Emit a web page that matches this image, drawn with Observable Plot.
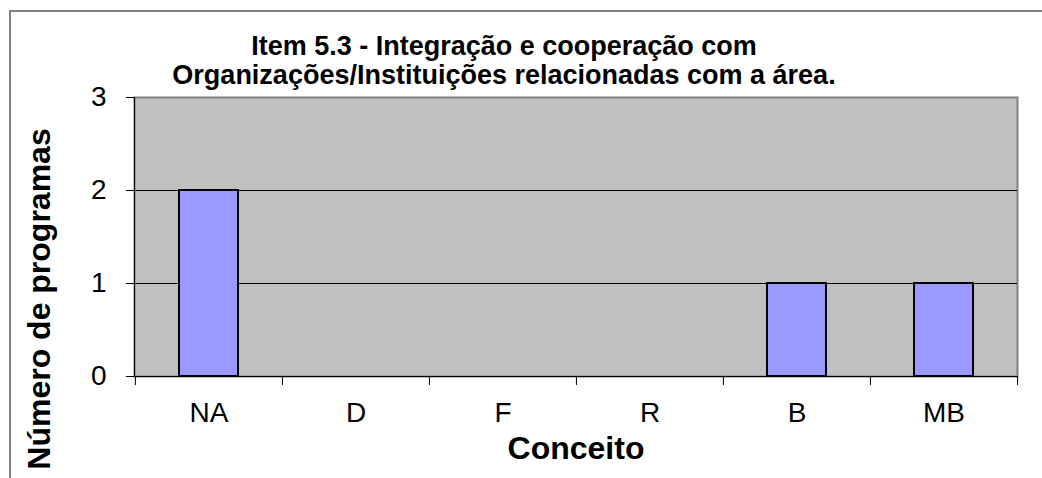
<!DOCTYPE html>
<html>
<head>
<meta charset="utf-8">
<script src="https://cdn.jsdelivr.net/npm/d3@7"></script>
<script src="https://cdn.jsdelivr.net/npm/@observablehq/plot@0.6"></script>
<style>
  html, body { margin: 0; padding: 0; background: #fff; }
  svg { display: block; font-family: "Liberation Sans", Arial, sans-serif; }
</style>
</head>
<body>
<div id="chart"></div>
<script>
const categories = ["NA", "D", "F", "R", "B", "MB"];
const values = [2, 0, 0, 0, 1, 1];
const yTicks = [0, 1, 2, 3];
const gridValues = [1, 2];
const titleLines = ["Item 5.3 - Integração e cooperação com", "Organizações/Instituições relacionadas com a área."];
const xLabel = "Conceito";
const yLabel = "Número de programas";

const data = categories.map((c, i) => ({ cat: c, val: values[i] }));

const W = 1042, H = 478;
const mL = 134, mR = 25, mT = 97, mB = 102;
const step = (W - mL - mR) / categories.length;
const FONT = "Liberation Sans, Arial, sans-serif";

const chart = Plot.plot({
  width: W,
  height: H,
  marginLeft: mL,
  marginRight: mR,
  marginTop: mT,
  marginBottom: mB,
  style: { fontFamily: FONT, color: "#000", background: "transparent" },
  x: { domain: categories, paddingInner: 0.6, paddingOuter: 0.3, axis: null },
  y: { domain: [0, 3], axis: null },
  marks: [
    Plot.frame({ fill: "#c0c0c0" }),
    Plot.frame({ stroke: "#808080", strokeWidth: 2 }),
    Plot.ruleY(gridValues, { stroke: "#000", strokeWidth: 1 }),
    Plot.barY(data, { x: "cat", y: "val", fill: "#9999ff", stroke: "#000", strokeWidth: 2 }),
    Plot.ruleY([0], { stroke: "#000", strokeWidth: 1 }),
    Plot.frame({ anchor: "left", stroke: "#000", strokeWidth: 1 }),
    // tick marks
    Plot.axisY({ ticks: yTicks, tickSize: 8, tickFormat: () => "", label: null, stroke: "#000" }),
    Plot.axisX({ tickSize: 9, tickFormat: () => "", label: null, dx: -step / 2, stroke: "#000" }),
    Plot.axisX([categories[categories.length - 1]], { tickSize: 9, tickFormat: () => "", label: null, dx: step / 2, stroke: "#000" }),
    // tick labels
    Plot.text(categories, { x: d => d, frameAnchor: "bottom", lineAnchor: "middle", textAnchor: "middle", dy: 37, fontSize: 28, fill: "#000" }),
    Plot.text(yTicks, { y: d => d, frameAnchor: "left", lineAnchor: "middle", textAnchor: "end", dx: -28, fontSize: 28, fill: "#000" }),
    // titles
    Plot.text([titleLines[0]], { frameAnchor: "top", text: d => d, lineAnchor: "middle", textAnchor: "middle", dx: -72, dy: -51, fontSize: 27, fontWeight: "bold", fill: "#000" }),
    Plot.text([titleLines[1]], { frameAnchor: "top", text: d => d, lineAnchor: "middle", textAnchor: "middle", dx: -72, dy: -22, fontSize: 27, fontWeight: "bold", fill: "#000" }),
    Plot.text([xLabel], { frameAnchor: "bottom", text: d => d, lineAnchor: "middle", textAnchor: "middle", dy: 72, fontSize: 32, fontWeight: "bold", fill: "#000" }),
    Plot.text([yLabel], { frameAnchor: "left", text: d => d, lineAnchor: "middle", textAnchor: "middle", dx: -95, dy: 62, rotate: -90, fontSize: 32, fontWeight: "bold", fill: "#000" })
  ]
});

const svg = d3.select(chart);
svg.insert("rect", ":first-child")
  .attr("x", 10).attr("y", 11)
  .attr("width", 1200).attr("height", 600)
  .attr("fill", "none").attr("stroke", "#808080").attr("stroke-width", 2);

document.getElementById("chart").appendChild(chart);
</script>
</body>
</html>
